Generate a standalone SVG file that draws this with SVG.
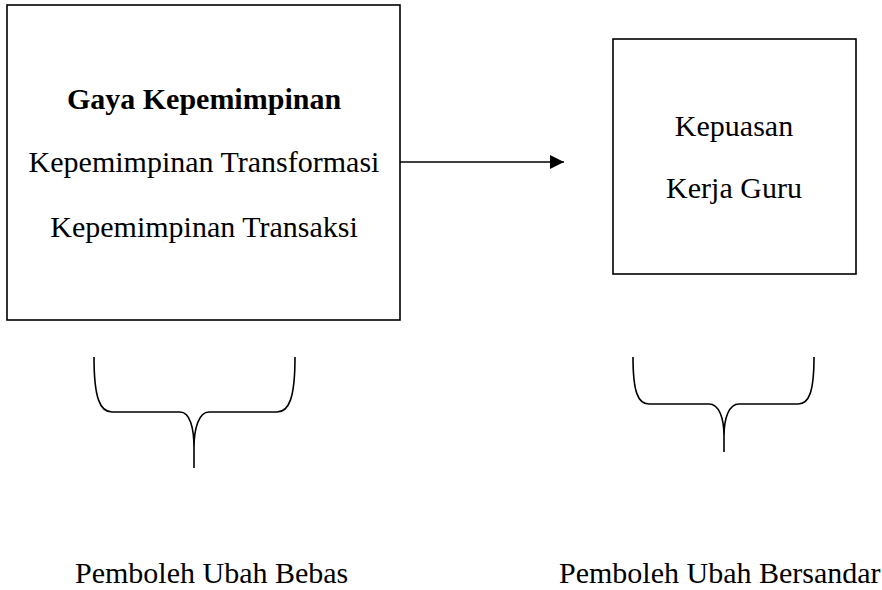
<svg xmlns="http://www.w3.org/2000/svg" width="882" height="590" viewBox="0 0 882 590">
<style>
.box{fill:#fff;stroke:#000;stroke-width:1.6}
.t{font-family:"Liberation Serif","Times New Roman",serif;font-size:30px;fill:#000;text-anchor:middle}
.b{font-weight:bold}
.lbl{font-family:"Liberation Serif","Times New Roman",serif;font-size:30px;fill:#000}
.br{fill:none;stroke:#000;stroke-width:1.6}
.con{fill:none;stroke:#000;stroke-width:1.6}
</style>
<defs>
<marker id="arr" viewBox="0 0 14 14" refX="14" refY="7" markerWidth="14" markerHeight="14" markerUnits="userSpaceOnUse" orient="auto">
<path d="M0,0 L14,7 L0,14 Z" fill="#000"/>
</marker>
</defs>
<rect width="882" height="590" fill="#fff"/>
<g id="node-gaya">
<rect class="box" x="7" y="5" width="393" height="315"/>
<text class="t b" x="204" y="109">Gaya Kepemimpinan</text>
<text class="t" x="204" y="172">Kepemimpinan Transformasi</text>
<text class="t" x="204" y="237">Kepemimpinan Transaksi</text>
</g>
<g id="node-kepuasan">
<rect class="box" x="613" y="39" width="243" height="235"/>
<text class="t" x="734" y="136">Kepuasan</text>
<text class="t" x="734" y="198">Kerja Guru</text>
</g>
<g id="connectors">
<line class="con" x1="400" y1="162" x2="564" y2="162" marker-end="url(#arr)"/>
</g>
<g id="bracket-left">
<path class="br" d="M94,357 C94,398 100,412 112,412 L180,412 C190,412 194,428 194,448 L194,468 M295,357 C295,398 289,412 277,412 L209,412 C199,412 194,428 194,448"/>
<text class="lbl" x="75" y="583">Pemboleh Ubah Bebas</text>
</g>
<g id="bracket-right">
<path class="br" d="M633,357 C633,392 638,404 649,404 L709,404 C719,404 724,418 724,436 L724,452 M814,357 C814,392 809,404 798,404 L739,404 C729,404 724,418 724,436"/>
<text class="lbl" x="559" y="583">Pemboleh Ubah Bersandar</text>
</g>
</svg>
